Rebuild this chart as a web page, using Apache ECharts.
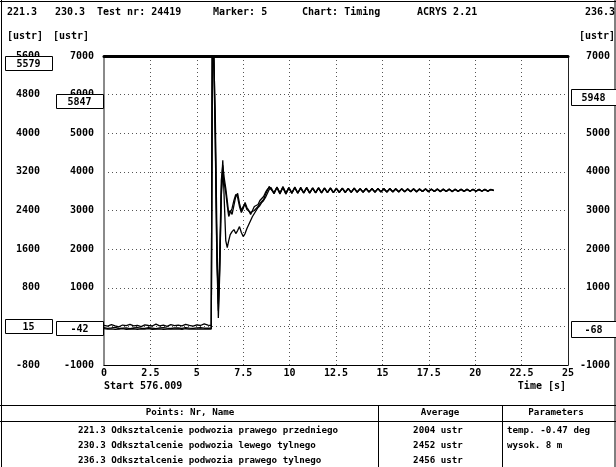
<!DOCTYPE html>
<html>
<head>
<meta charset="utf-8">
<script src="https://cdn.jsdelivr.net/npm/echarts@6/dist/echarts.min.js"></script>
<style>
  html, body { margin: 0; padding: 0; background: #fff; }
  #main { width: 616px; height: 467px; }
</style>
</head>
<body>
<div id="main"></div>
<script>
// ---- sample times [s] ----
const baseT = [0, 0.2, 0.4, 0.6, 0.8, 1.0, 1.2, 1.4, 1.6, 1.8, 2.0, 2.2, 2.4, 2.6, 2.8,
  3.0, 3.2, 3.4, 3.6, 3.8, 4.0, 4.2, 4.4, 4.6, 4.8, 5.0, 5.2, 5.4, 5.6, 5.78];
const stepT = [5.84, 5.92, 6.0, 6.08, 6.16, 6.24, 6.32, 6.4, 6.48, 6.56, 6.64, 6.72, 6.8, 6.9,
  7.0, 7.1, 7.2, 7.3, 7.4, 7.5, 7.6, 7.7, 7.8, 7.9, 8.0, 8.1, 8.2, 8.3, 8.4, 8.5, 8.6, 8.7,
  8.8, 8.9, 9.0];
const tailT = [9.16, 9.32, 9.48, 9.64, 9.8, 9.96, 10.12, 10.28, 10.44, 10.6, 10.76, 10.92,
  11.08, 11.24, 11.4, 11.56, 11.72, 11.88, 12.04, 12.2, 12.36, 12.52, 12.68, 12.84, 13.0,
  13.16, 13.32, 13.48, 13.64, 13.8, 13.96, 14.12, 14.28, 14.44, 14.6, 14.76, 14.92, 15.08,
  15.24, 15.4, 15.56, 15.72, 15.88, 16.04, 16.2, 16.36, 16.52, 16.68, 16.84, 17.0, 17.16,
  17.32, 17.48, 17.64, 17.8, 17.96, 18.12, 18.28, 18.44, 18.6, 18.76, 18.92, 19.08, 19.24,
  19.4, 19.56, 19.72, 19.88, 20.04, 20.2, 20.36, 20.52, 20.68, 20.84, 21.0];

// ---- point 221.3 [ustr] (left scale) ----
const s221Base = [20, 5, 35, 12, -8, 28, 15, 40, 10, 22, -5, 30, 18, 8, 45, 12, 25, 0, 35, 15,
  28, 10, 42, 20, 5, 33, 18, 50, 25, 15];
const s221Step = [6200, 5517, 4270, 1984, 176, 1153, 2815, 3439, 2608, 1777, 1631, 1777, 1901,
  1963, 2005, 1922, 1984, 2067, 1943, 1860, 1922, 2026, 2109, 2192, 2275, 2338, 2400, 2462,
  2504, 2566, 2608, 2670, 2753, 2836, 2878];
const s221Tail = [2750, 2880, 2760, 2872, 2745, 2868, 2765, 2876, 2758, 2865,
  2768, 2870, 2762, 2860, 2772, 2866, 2766, 2858, 2776, 2862,
  2770, 2855, 2778, 2860, 2774, 2852, 2780, 2858, 2776, 2850,
  2784, 2855, 2780, 2848, 2786, 2852, 2782, 2846, 2788, 2850,
  2784, 2845, 2790, 2848, 2786, 2842, 2792, 2846, 2788, 2840,
  2794, 2844, 2790, 2840, 2796, 2842, 2792, 2838, 2798, 2840,
  2794, 2836, 2800, 2838, 2796, 2834, 2802, 2836, 2798, 2832,
  2804, 2834, 2800, 2830, 2815];

// ---- point 230.3 [ustr] (inner left scale) ----
const s230Base = [-35, -50, -40, -28, -55, -45, -38, -60, -42, -30, -48, -52, -36, -44, -58,
  -40, -33, -47, -55, -38, -42, -50, -30, -45, -52, -40, -35, -48, -44, -42];
const s230Step = [7900, 7300, 4559, 1962, 585, 1962, 3780, 4169, 3832, 3572, 3260, 2923, 3001,
  2897, 3130, 3364, 3442, 3182, 3001, 3104, 3156, 3027, 3078, 2949, 2923, 3001, 2975, 3104,
  3182, 3234, 3286, 3416, 3520, 3624, 3650];
const s230Tail = [3440, 3610, 3450, 3600, 3430, 3595, 3455, 3590, 3445, 3600,
  3460, 3585, 3450, 3590, 3465, 3580, 3455, 3585, 3470, 3575,
  3460, 3580, 3475, 3570, 3465, 3575, 3470, 3580, 3478, 3565,
  3470, 3570, 3480, 3575, 3472, 3566, 3482, 3570, 3475, 3562,
  3485, 3568, 3478, 3560, 3482, 3565, 3488, 3558, 3480, 3562,
  3490, 3556, 3484, 3560, 3492, 3555, 3486, 3558, 3494, 3552,
  3488, 3556, 3495, 3550, 3490, 3555, 3496, 3550, 3492, 3553,
  3498, 3548, 3494, 3550, 3520];

// ---- point 236.3 [ustr] (right scale) ----
const s236Base = [-60, -72, -65, -80, -70, -58, -75, -68, -62, -78, -66, -71, -59, -74, -69,
  -63, -77, -70, -64, -72, -66, -80, -61, -70, -68, -73, -65, -70, -62, -68];
const s236Step = [7700, 6636, 4819, 1702, 404, 1650, 3390, 3910, 3702, 3468, 3130, 2845, 2949,
  3053, 3260, 3416, 3338, 3104, 2949, 3053, 3208, 3078, 3001, 2897, 3001, 3104, 3053, 3156,
  3260, 3312, 3364, 3468, 3546, 3598, 3624];
const s236Tail = [3470, 3590, 3430, 3620, 3455, 3585, 3440, 3605, 3460, 3580,
  3450, 3598, 3462, 3576, 3456, 3592, 3468, 3572, 3460, 3586,
  3472, 3568, 3466, 3582, 3476, 3565, 3470, 3578, 3480, 3560,
  3474, 3575, 3484, 3562, 3478, 3572, 3486, 3558, 3480, 3568,
  3488, 3556, 3484, 3565, 3490, 3554, 3486, 3562, 3494, 3550,
  3490, 3560, 3496, 3548, 3492, 3558, 3498, 3546, 3494, 3555,
  3500, 3545, 3496, 3552, 3502, 3544, 3498, 3550, 3504, 3542,
  3500, 3548, 3506, 3540, 3515];

// ---- marker readouts (scale order: 221.3, 230.3, 236.3) ----
const markerHigh = [5579, 5847, 5948];
const markerLow = [15, -42, -68];

// ---- table of points ----
const pointNames = [
  '221.3 Odksztalcenie podwozia prawego przedniego',
  '230.3 Odksztalcenie podwozia lewego tylnego',
  '236.3 Odksztalcenie podwozia prawego tylnego'
];
const pointAverages = ['2004 ustr', '2452 ustr', '2456 ustr'];
const parameters = ['temp. -0.47 deg', 'wysok. 8 m'];

const FAMILY = '"DejaVu Sans Mono", "Liberation Mono", monospace';
const FONT = 'bold 10px ' + FAMILY;
const FONT_TABLE = 'bold 9.2px ' + FAMILY;

const allT = baseT.concat(stepT, tailT);
const zip = (vals) => allT.map((t, i) => [t, vals[i]]);

const chart = echarts.init(document.getElementById('main'), null, { renderer: 'canvas' });

const plain = (v) => String(v);
const labelStyle = { color: '#000', fontFamily: FAMILY, fontWeight: 'bold', fontSize: 10, formatter: plain };
const dotted = { color: '#555', width: 1, type: [1, 3] };

function lineSeries(name, yIdx, vals) {
  return {
    name, type: 'line', xAxisIndex: 0, yAxisIndex: yIdx,
    data: zip(vals), symbol: 'none', showSymbol: false, clip: true,
    lineStyle: { color: '#000', width: 1.3 }, animation: false, z: 3
  };
}

function txt(text, x, y, align, font) {
  return {
    type: 'text', silent: true, z: 50,
    style: {
      text, x, y, font: font || FONT, fill: '#000',
      align: align || 'left', verticalAlign: 'middle',
      textAlign: align || 'left', textVerticalAlign: 'middle'
    }
  };
}
function hline(x1, x2, y, w, color) {
  return { type: 'line', silent: true, z: 50,
    shape: { x1, y1: y, x2, y2: y }, style: { stroke: color || '#000', lineWidth: w || 1 } };
}
function vline(x, y1, y2, w, color) {
  return { type: 'line', silent: true, z: 50,
    shape: { x1: x, y1, x2: x, y2 }, style: { stroke: color || '#000', lineWidth: w || 1 } };
}

// header, frame and table
const frame = [
  hline(0, 616, 1.5), vline(1.5, 0, 467), vline(615, 0, 467),
  txt('221.3', 7, 12), txt('230.3', 55, 12), txt('Test nr: 24419', 97, 12),
  txt('Marker: 5', 213, 12), txt('Chart: Timing', 302, 12), txt('ACRYS 2.21', 417, 12),
  txt('236.3', 615, 12, 'right'),
  txt('[ustr]', 7, 36), txt('[ustr]', 53, 36), txt('[ustr]', 615, 36, 'right'),
  txt('Start 576.009', 104, 386), txt('Time [s]', 566, 386, 'right'),
  hline(0, 616, 405.5), hline(0, 616, 421.5),
  vline(378.5, 405, 467), vline(502.5, 405, 467),
  txt('Points: Nr, Name', 190, 413, 'center', FONT_TABLE),
  txt('Average', 440, 413, 'center', FONT_TABLE),
  txt('Parameters', 556, 413, 'center', FONT_TABLE)
];
pointNames.forEach((n, i) => frame.push(txt(n, 78, 431 + i * 15, 'left', FONT_TABLE)));
pointAverages.forEach((a, i) => frame.push(txt(a, 438, 431 + i * 15, 'center', FONT_TABLE)));
parameters.forEach((p, i) => frame.push(txt(p, 507, 431 + i * 15, 'left', FONT_TABLE)));

chart.setOption({
  animation: false,
  backgroundColor: '#fff',
  grid: { left: 104, right: 48, top: 56, bottom: 102, containLabel: false },
  xAxis: [
    {
      type: 'value', min: 0, max: 25, interval: 2.5, position: 'bottom',
      axisLine: { show: true, onZero: false, lineStyle: { color: '#000', width: 1 } },
      axisTick: { show: false },
      axisLabel: Object.assign({}, labelStyle, { margin: 3 }),
      splitLine: { show: true, lineStyle: dotted }
    },
    {
      type: 'value', min: 0, max: 25, position: 'top',
      axisLine: { show: true, onZero: false, lineStyle: { color: '#000', width: 3 } },
      axisTick: { show: false }, axisLabel: { show: false }, splitLine: { show: false }
    }
  ],
  yAxis: [
    {
      type: 'value', min: -800, max: 5600, interval: 800, position: 'left', offset: 54,
      axisLine: { show: false, onZero: false }, axisTick: { show: false },
      axisLabel: Object.assign({}, labelStyle, { margin: 10 }),
      splitLine: { show: false }
    },
    {
      type: 'value', min: -1000, max: 7000, interval: 1000, position: 'left',
      axisLine: { show: true, onZero: false, lineStyle: { color: '#8a8a8a', width: 2 } },
      axisTick: { show: false },
      axisLabel: Object.assign({}, labelStyle, { margin: 10 }),
      splitLine: { show: true, lineStyle: dotted }
    },
    {
      type: 'value', min: -1000, max: 7000, interval: 1000, position: 'right',
      axisLine: { show: true, onZero: false, lineStyle: { color: '#222', width: 1 } },
      axisTick: { show: false },
      axisLabel: Object.assign({}, labelStyle, { margin: 42, align: 'right' }),
      splitLine: { show: false }
    }
  ],
  series: [
    lineSeries('221.3', 0, s221Base.concat(s221Step, s221Tail)),
    lineSeries('230.3', 1, s230Base.concat(s230Step, s230Tail)),
    lineSeries('236.3', 2, s236Base.concat(s236Step, s236Tail))
  ],
  graphic: { elements: frame }
});

// marker readout boxes, placed on their own scales
const boxCols = [{ x: 5, w: 47, h: 14 }, { x: 56, w: 47, h: 14 }, { x: 571, w: 45, h: 16 }];
const plotTop = 56;
const boxes = [];
[markerHigh, markerLow].forEach((vals) => {
  vals.forEach((v, i) => {
    const c = boxCols[i];
    let cy = chart.convertToPixel({ yAxisIndex: i }, v);
    cy = Math.max(cy, plotTop + 7);
    boxes.push({
      type: 'rect', silent: true, z: 60,
      shape: { x: c.x + 0.5, y: Math.round(cy - c.h / 2) + 0.5, width: c.w, height: c.h },
      style: { fill: '#fff', stroke: '#000', lineWidth: 1 }
    });
    const t = txt(String(v), c.x + c.w / 2, Math.round(cy) + 1, 'center');
    t.z = 61;
    boxes.push(t);
  });
});
chart.setOption({ graphic: { elements: frame.concat(boxes) } });
</script>
</body>
</html>
